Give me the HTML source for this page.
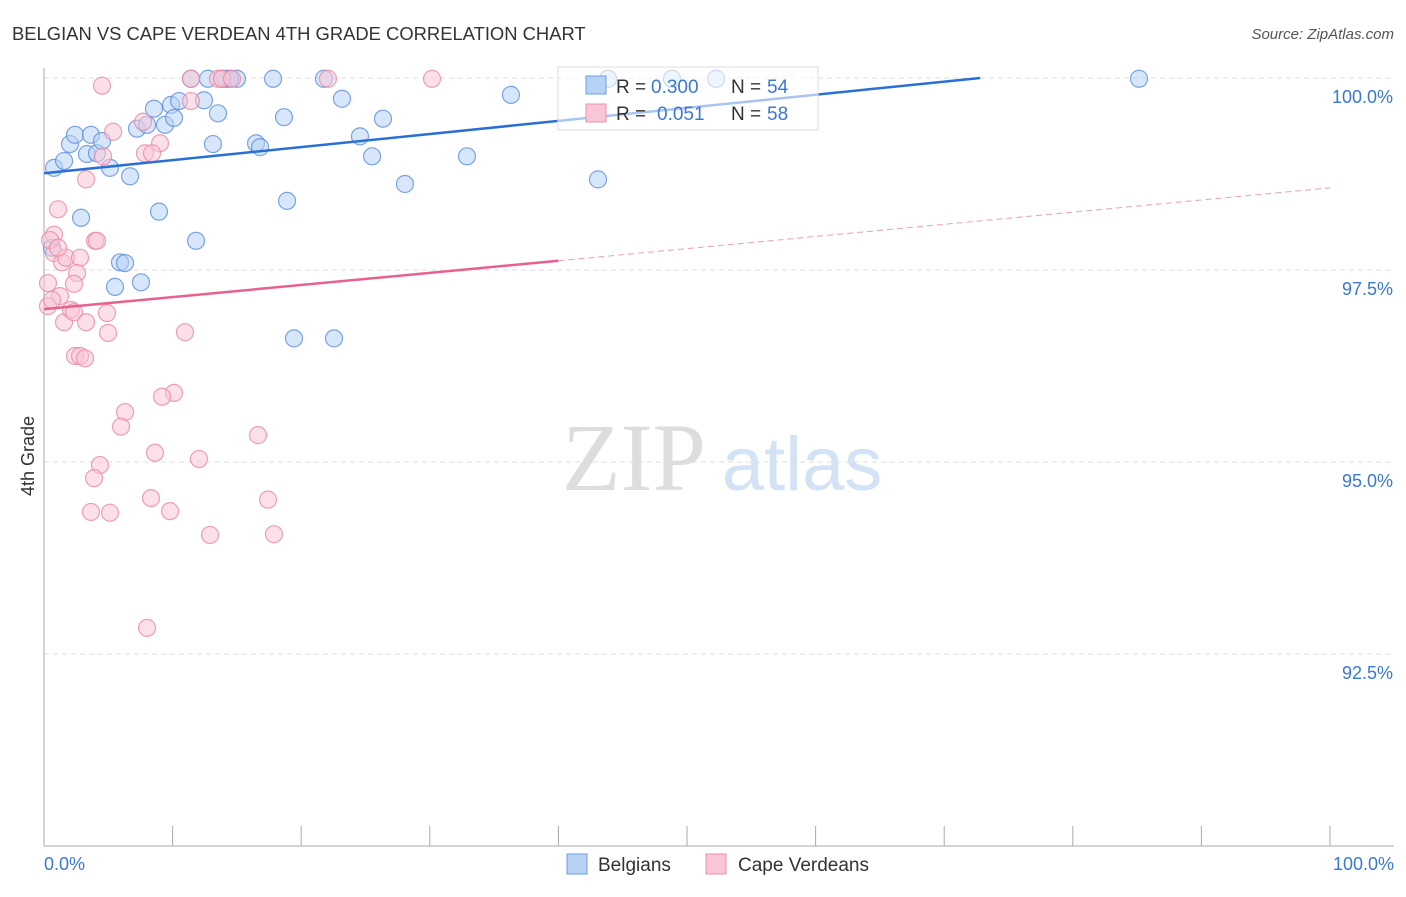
<!DOCTYPE html>
<html><head><meta charset="utf-8"><style>
body{margin:0;background:#fff;font-family:"Liberation Sans",sans-serif;}
svg text{font-family:"Liberation Sans",sans-serif;}
</style></head><body>
<svg id="chart" width="1406" height="892" xmlns="http://www.w3.org/2000/svg">
<text x="12" y="40" font-size="18.4" fill="#333">BELGIAN VS CAPE VERDEAN 4TH GRADE CORRELATION CHART</text>
<text x="1394" y="39" font-size="15" fill="#555" text-anchor="end" font-style="italic">Source: ZipAtlas.com</text>
<text x="634" y="490" font-size="96" fill="#ddd" style="font-family:'Liberation Serif',serif" text-anchor="middle">ZIP</text>
<text x="802" y="490" font-size="76" fill="#d4e2f5" text-anchor="middle">atlas</text>
<g id="grid"></g>
<g id="axes"></g>
<g id="pts"></g>
<g id="trend"></g>
<text transform="translate(34,456) rotate(-90)" font-size="18" fill="#333" text-anchor="middle">4th Grade</text>
<text x="44" y="870" font-size="18" fill="#3a78d4">0.0%</text>
<text x="1394" y="870" font-size="18" fill="#3a78d4" text-anchor="end">100.0%</text>
<g>
<rect x="558" y="67" width="260" height="63" fill="#fff" fill-opacity="0.6" stroke="#ddd"/>
<rect x="586" y="76" width="20" height="18" fill="#b8d2f5" stroke="#6d9ee0"/>
<rect x="586" y="104" width="20" height="18" fill="#f8c6d6" stroke="#e890ad"/>
<text x="616" y="93" font-size="19" fill="#333">R =</text>
<text x="651" y="93" font-size="19" fill="#3a78d4">0.300</text>
<text x="731" y="93" font-size="19" fill="#333">N =</text>
<text x="767" y="93" font-size="19" fill="#3a78d4">54</text>
<text x="616" y="120" font-size="19" fill="#333">R =</text>
<text x="657" y="120" font-size="19" fill="#3a78d4">0.051</text>
<text x="731" y="120" font-size="19" fill="#333">N =</text>
<text x="767" y="120" font-size="19" fill="#3a78d4">58</text>
</g>
<g>
<rect x="567" y="854" width="20" height="20" fill="#b8d2f5" stroke="#6d9ee0"/>
<text x="598" y="871" font-size="19" fill="#333">Belgians</text>
<rect x="706" y="854" width="20" height="20" fill="#f8c6d6" stroke="#e890ad"/>
<text x="738" y="871" font-size="19" fill="#333">Cape Verdeans</text>
</g>
</svg>
<script>
const yTicks=[100,97.5,95,92.5];
const yTickLabels=["100.0%","97.5%","95.0%","92.5%"];
const xTicks=[0,10,20,30,40,50,60,70,80,90,100];
const blueX=[0.78,1.56,2.02,2.41,3.65,3.34,4.12,4.51,5.13,6.69,7.23,8.01,8.55,9.41,9.88,10.11,10.5,11.43,12.44,12.75,13.53,13.14,14.15,15.01,16.49,16.8,17.81,18.66,18.9,19.44,22.55,23.17,24.57,25.51,26.36,28.07,32.89,36.31,43.08,43.86,48.83,52.26,85.15,8.94,2.88,11.82,0.62,5.91,6.3,5.52,7.54,21.77,14.46,13.84];
const blueY=[98.83,98.92,99.14,99.26,99.26,99.01,99.02,99.18,98.83,98.72,99.34,99.39,99.6,99.39,99.65,99.48,99.7,99.99,99.71,99.99,99.54,99.14,99.99,99.99,99.15,99.1,99.99,99.49,98.4,96.61,96.61,99.73,99.24,98.98,99.47,98.62,98.98,99.78,98.68,99.99,99.99,99.99,99.99,98.26,98.18,97.88,97.79,97.6,97.59,97.28,97.34,99.99,99.99,99.99];
const pinkX=[4.51,11.43,13.53,13.84,14.62,22.08,30.17,11.43,5.37,7.7,9.02,7.85,8.4,4.59,3.27,1.09,0.78,0.78,1.4,1.71,2.8,3.97,4.12,2.57,2.33,1.24,0.31,0.31,1.56,2.1,2.33,3.27,4.9,4.98,10.96,2.41,2.8,3.19,10.11,9.18,6.3,5.99,16.64,8.63,12.05,4.35,3.89,8.32,17.42,3.65,5.13,9.8,12.91,17.88,8.01,0.62,0.47,1.09];
const pinkY=[99.9,99.99,99.99,99.99,99.99,99.99,99.99,99.7,99.3,99.43,99.15,99.02,99.02,98.98,98.68,98.29,97.96,97.72,97.6,97.66,97.66,97.88,97.88,97.46,97.32,97.16,97.33,97.03,96.82,96.98,96.95,96.82,96.94,96.68,96.69,96.38,96.38,96.35,95.9,95.85,95.65,95.46,95.35,95.12,95.04,94.96,94.79,94.53,94.51,94.35,94.34,94.36,94.05,94.06,92.84,97.11,97.89,97.79];
const blueTrend=[[0,98.76],[72.8,100]];
const pinkTrend=[[0,96.99],[40,97.62],[100,98.57]];
const NS="http://www.w3.org/2000/svg";
const X=v=>44+v*12.86, Y=v=>78+(100-v)*76.8;
function mk(t,a,p){const e=document.createElementNS(NS,t);for(const k in a)e.setAttribute(k,a[k]);p.appendChild(e);return e;}
const grid=document.getElementById('grid'),axes=document.getElementById('axes');
yTicks.forEach((t,i)=>{
 const l=mk('line',{x1:44,x2:1394,y1:Y(t),y2:Y(t),stroke:'#ddd','stroke-dasharray':'5,4'},grid);
 
 
 const tx=mk('text',{x:1393,y:Y(t)+25,'font-size':18,fill:'#3a78d4','text-anchor':'end'},grid);
 tx.textContent=yTickLabels[i];
 
 
});
const ya=mk('line',{x1:44,x2:44,y1:68,y2:846,stroke:'#aaa'},axes);


const xa=mk('line',{x1:44,x2:1394,y1:846,y2:846,stroke:'#aaa'},axes);


xTicks.forEach(t=>{
 const l=mk('line',{x1:X(t),x2:X(t),y1:826,y2:846,stroke:'#aaa'},axes);
 
 
});
const pts=document.getElementById('pts');
function dots(xs,ys,fill,stroke,name){
 xs.forEach((x,i)=>{
  const c=mk('circle',{cx:X(x),cy:Y(ys[i]),r:8.5,fill:fill,'fill-opacity':0.55,stroke:stroke,'stroke-width':1.2,'stroke-opacity':0.8},pts);
  
  
 });
}
dots(blueX,blueY,'#b8d2f5','#5b8fdc','belgian-point');
dots(pinkX,pinkY,'#f8c6d6','#e88aa8','cape-verdean-point');
const tr=document.getElementById('trend');
const b=mk('line',{x1:X(blueTrend[0][0]),y1:Y(blueTrend[0][1]),x2:X(blueTrend[1][0]),y2:Y(blueTrend[1][1]),stroke:'#2a6fd6','stroke-width':2.5},tr);


const p1=mk('line',{x1:X(pinkTrend[0][0]),y1:Y(pinkTrend[0][1]),x2:X(pinkTrend[1][0]),y2:Y(pinkTrend[1][1]),stroke:'#e8608e','stroke-width':2.5},tr);


const p2=mk('line',{x1:X(pinkTrend[1][0]),y1:Y(pinkTrend[1][1]),x2:X(pinkTrend[2][0]),y2:Y(pinkTrend[2][1]),stroke:'#e8a0b8','stroke-width':1,'stroke-dasharray':'6,4'},tr);


</script>
</body></html>
